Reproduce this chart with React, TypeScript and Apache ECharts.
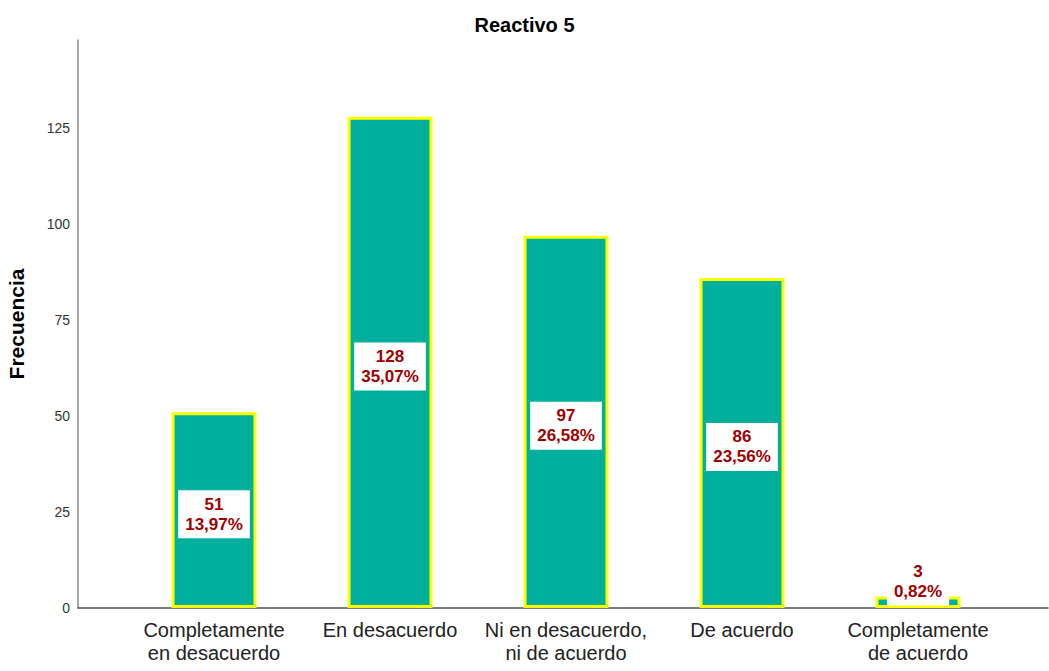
import React, { useEffect, useRef } from "react";
import * as echarts from "echarts";

const categories = [
  "Completamente\nen desacuerdo",
  "En desacuerdo",
  "Ni en desacuerdo,\nni de acuerdo",
  "De acuerdo",
  "Completamente\nde acuerdo",
];
const frequencies = [51, 128, 97, 86, 3];
const yTicks = [0, 25, 50, 75, 100, 125];
const yMax = 148;

const total = frequencies.reduce((a, b) => a + b, 0);
const pct = (v: number) => ((v / total) * 100).toFixed(2).replace(".", ",") + "%";

const font = "Liberation Sans";

export default function App() {
  const ref = useRef<HTMLDivElement>(null);

  useEffect(() => {
    if (!ref.current) return;
    const chart = echarts.init(ref.current, null, { renderer: "svg" });

    chart.setOption({
      animation: false,
      backgroundColor: "#ffffff",
      title: {
        text: "Reactivo 5",
        left: "center",
        top: 10,
        textStyle: { fontFamily: font, fontSize: 20, fontWeight: "bold", color: "#000" },
      },
      grid: [
        // frame: full-width axes with the value scale
        { left: 78, right: 1, top: 40, bottom: 63, outerBoundsMode: "none" },
        // bars: the five category bands
        { left: 126, right: 43, top: 40, bottom: 63, outerBoundsMode: "none" },
      ],
      xAxis: [
        {
          type: "value",
          gridIndex: 0,
          min: 0,
          max: 1,
          splitLine: { show: false },
          axisLine: { show: true, onZero: false, lineStyle: { color: "#555", width: 1.5 } },
          axisTick: { show: false },
          axisLabel: { show: false },
        },
        {
          type: "category",
          gridIndex: 1,
          data: categories,
          axisLine: { show: false },
          axisTick: { show: false },
          axisLabel: {
            interval: 0,
            fontFamily: font,
            fontSize: 20,
            lineHeight: 23,
            color: "#222",
            margin: 10,
          },
        },
      ],
      yAxis: [
        {
          type: "value",
          gridIndex: 0,
          min: 0,
          max: yMax,
          name: "Frecuencia",
          nameLocation: "middle",
          nameGap: 51,
          nameTextStyle: { fontFamily: font, fontSize: 21, fontWeight: "bold", color: "#000" },
          splitLine: { show: false },
          axisLine: { show: true, onZero: false, lineStyle: { color: "#888", width: 1.5 } },
          axisTick: { show: false },
          axisLabel: {
            customValues: yTicks,
            fontFamily: font,
            fontSize: 14,
            color: "#333",
            margin: 8,
          },
        },
        {
          type: "value",
          gridIndex: 1,
          min: 0,
          max: yMax,
          show: false,
          splitLine: { show: false },
        },
      ],
      series: [
        {
          type: "bar",
          xAxisIndex: 1,
          yAxisIndex: 1,
          barWidth: 85,
          data: frequencies.map((v) => ({
            value: v,
            label:
              v < 10
                ? { position: "top", distance: -9 }
                : { position: "inside", offset: [0, 4] },
          })),
          itemStyle: { color: "#00B09C", borderColor: "#FFFF00", borderWidth: 3 },
          label: {
            show: true,
            formatter: (p: any) => `${p.value}\n${pct(p.value)}`,
            fontFamily: font,
            fontSize: 17,
            fontWeight: "bold",
            lineHeight: 20,
            color: "#A00000",
            backgroundColor: "#ffffff",
            padding: [4, 7, 4, 7],
            align: "center",
          },
        },
      ],
    });

    return () => chart.dispose();
  }, []);

  return (
    <div
      ref={ref}
      style={{ position: "fixed", left: 0, top: 0, width: 1049, height: 671 }}
    />
  );
}
